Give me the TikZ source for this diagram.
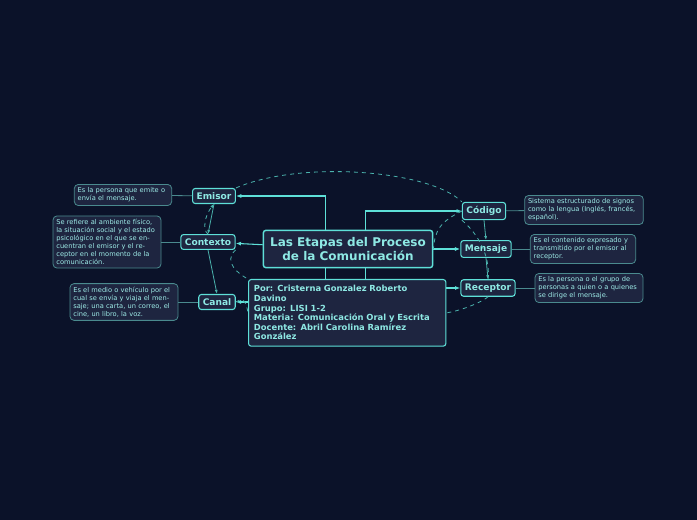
\documentclass[tikz,border=0pt]{standalone}
\usepackage{fontspec}
\setmainfont{DejaVu Sans}
\usepackage{tikz}
\usetikzlibrary{arrows.meta}
\definecolor{bgc}{HTML}{0B1229}
\definecolor{boxc}{HTML}{1E2540}
\definecolor{linec}{HTML}{5EE0D8}
\definecolor{descc}{HTML}{4A8A8E}
\tikzset{
  topic/.style={draw=linec,fill=boxc,rounded corners=2pt,line width=0.8pt,text=linec!70!white,font=\bfseries\fontsize{6.8}{8}\selectfont,inner sep=3pt},
  desc/.style={draw=descc,fill=boxc,rounded corners=3pt,line width=0.6pt,text=linec!60!white,font=\fontsize{5}{6}\selectfont,align=left,inner sep=2.5pt},
  link/.style={linec,line width=0.8pt,-{Latex[length=4pt]}},
  thin/.style={descc,line width=0.6pt},
  rel/.style={linec!80!black,dashed,line width=0.6pt},
}
\begin{document}
\begin{tikzpicture}[x=0.75pt,y=0.75pt,yscale=-1,xscale=1]
\fill[bgc] (0,0) rectangle (697,520);

\node[topic,line width=1.1pt,font=\bfseries\fontsize{9}{10.5}\selectfont,align=center,minimum width=127pt,minimum height=28pt] (main) at (348,249) {Las Etapas del Proceso\\de la Comunicación};
\node[topic,align=left,font=\bfseries\fontsize{6.3}{7.2}\selectfont,text width=140pt,minimum height=50pt,anchor=north west,inner sep=4pt] (info) at (248,279) {Por: Cristerna Gonzalez Roberto Davino\\Grupo: LISI 1-2\\Materia: Comunicación Oral y Escrita\\Docente: Abril Carolina Ramírez González};

\node[topic] (emisor) at (214,196) {Emisor};
\node[topic] (contexto) at (208,242) {Contexto};
\node[topic] (canal) at (217,302) {Canal};
\node[topic] (codigo) at (484,211) {Código};
\node[topic] (mensaje) at (486,249) {Mensaje};
\node[topic] (receptor) at (488,288) {Receptor};

\node[desc,text width=68pt] (demisor) at (123,195) {Es la persona que emite o envía el mensaje.};
\node[desc,text width=76pt] (dcontexto) at (107,242) {Se refiere al ambiente físico, la situación social y el estado psicológico en el que se encuentran el emisor y el receptor en el momento de la comunicación.};
\node[desc,text width=76pt] (dcanal) at (124,302) {Es el medio o vehículo por el cual se envía y viaja el mensaje; una carta, un correo, el cine, un libro, la voz.};
\node[desc,text width=84pt] (dcodigo) at (584,210) {Sistema estructurado de signos como la lengua (Inglés, francés, español).};
\node[desc,text width=74pt] (dmensaje) at (583,249) {Es el contenido expresado y transmitido por el emisor al receptor.};
\node[desc,text width=76pt] (dreceptor) at (589,288) {Es la persona o el grupo de personas a quien o a quienes se dirige el mensaje.};

% ramas
\draw[link] ([xshift=-17pt]main.north) |- (emisor);
\draw[link] (main) -- (contexto);
\draw[link] (info.west |- canal) -- (canal);
\draw[link] ([xshift=13pt]main.north) |- (codigo);
\draw[link] (main) -- (mensaje);
\draw[link] (info.east |- receptor) -- (receptor);
\draw[linec,line width=0.8pt] ([xshift=-17pt]main.south) -- ([xshift=-17pt]main.south |- info.north);
\draw[linec,line width=0.8pt] ([xshift=13pt]main.south) -- ([xshift=13pt]main.south |- info.north);

% descripciones
\draw[thin] (emisor) -- (demisor);
\draw[thin] (contexto) -- (dcontexto);
\draw[thin] (canal) -- (dcanal);
\draw[thin] (codigo) -- (dcodigo);
\draw[thin] (mensaje) -- (dmensaje);
\draw[thin] (receptor) -- (dreceptor);

% relaciones
\draw[thin,linec!80!black,-{Latex[length=3pt]}] (emisor.south) -- (contexto.north);
\draw[thin,linec!80!black,-{Latex[length=3pt]}] (contexto.south) -- (canal.north);
\draw[thin,linec!80!black,-{Latex[length=3pt]}] (codigo.south) -- (mensaje.north);
\draw[thin,linec!80!black,-{Latex[length=3pt]}] (mensaje.south) -- (receptor.north);
\draw[rel] (emisor.north east) .. controls (300,160) and (430,170) .. (codigo.north west);
\draw[rel,-{Latex[length=3pt]}] (contexto.north) .. controls (202,230) and (205,215) .. (emisor.south);
\draw[rel] (contexto.south east) .. controls (222,262) and (240,275) .. (info.north west);
\draw[rel] (canal.east) .. controls (240,300) and (245,295) .. (info.west);
\draw[rel] (codigo.west) .. controls (440,222) and (435,230) .. (main.east);
\draw[rel] (codigo.south west) .. controls (485,240) and (490,265) .. (receptor.north);
\draw[rel] (receptor.south) .. controls (485,300) and (465,310) .. (info.east);
\end{tikzpicture}
\end{document}
